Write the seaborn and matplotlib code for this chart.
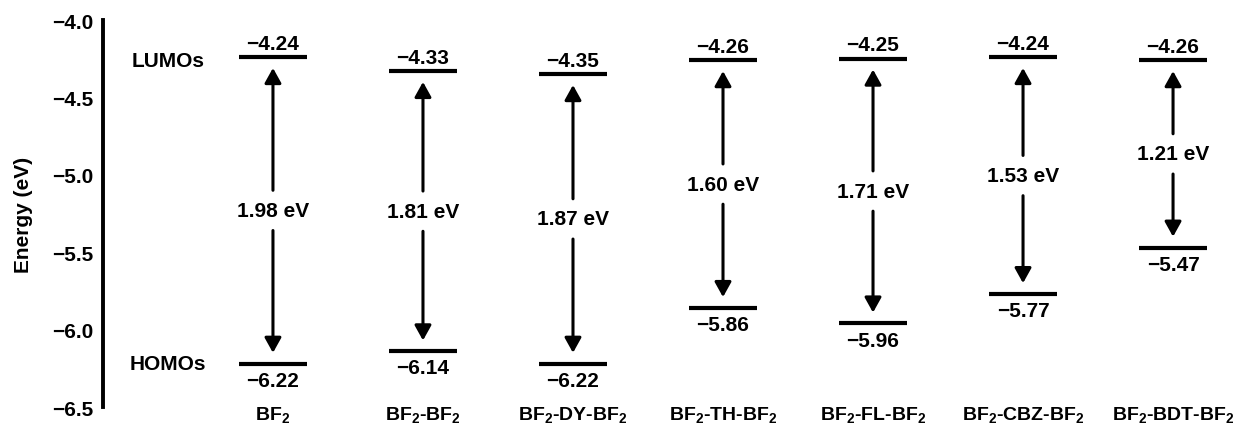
import matplotlib
matplotlib.use("Agg")
import matplotlib.pyplot as plt
import seaborn as sns
import numpy as np

categories = ["BF$_2$", "BF$_2$-BF$_2$", "BF$_2$-DY-BF$_2$", "BF$_2$-TH-BF$_2$",
              "BF$_2$-FL-BF$_2$", "BF$_2$-CBZ-BF$_2$", "BF$_2$-BDT-BF$_2$"]
lumo = [-4.24, -4.33, -4.35, -4.26, -4.25, -4.24, -4.26]
homo = [-6.22, -6.14, -6.22, -5.86, -5.96, -5.77, -5.47]
gaps = [1.98, 1.81, 1.87, 1.60, 1.71, 1.53, 1.21]
yticks = [-4.0, -4.5, -5.0, -5.5, -6.0, -6.5]

sns.set_theme(style="white")
plt.rcParams["font.family"] = ["Liberation Sans", "DejaVu Sans"]
plt.rcParams["font.weight"] = "bold"
plt.rcParams["mathtext.fontset"] = "custom"
plt.rcParams["mathtext.rm"] = "Liberation Sans:bold"
plt.rcParams["mathtext.bf"] = "Liberation Sans:bold"
plt.rcParams["mathtext.default"] = "rm"
for k in ["text.color", "axes.labelcolor", "xtick.color", "ytick.color", "axes.edgecolor"]:
    plt.rcParams[k] = "black"

fig = plt.figure(figsize=(12.41, 4.27), dpi=100)
ax = fig.add_axes([103 / 1241, 19 / 427, (1241 - 103) / 1241, (408 - 21) / 427])

x = np.arange(len(categories))
half = 0.227
FS = 15

ax.hlines(lumo, x - half, x + half, color="black", lw=3.0)
ax.hlines(homo, x - half, x + half, color="black", lw=3.0)

tip_off = 0.07
gap_half = 0.13
for xi, lu, ho, g in zip(x, lumo, homo, gaps):
    mid = (lu + ho) / 2
    ap = dict(arrowstyle="-|>,head_length=0.45,head_width=0.25", color="black",
              lw=2.2, shrinkA=0, shrinkB=0, mutation_scale=20)
    ax.annotate("", xy=(xi, lu - tip_off), xytext=(xi, mid + gap_half), arrowprops=ap)
    ax.annotate("", xy=(xi, ho + tip_off), xytext=(xi, mid - gap_half), arrowprops=ap)
    ax.text(xi, mid, f"{g:.2f} eV", ha="center", va="center", fontsize=FS, fontweight="bold")
    ax.annotate(f"{lu:.2f}".replace("-", "\u2212"), xy=(xi, lu), xytext=(0, 10),
                textcoords="offset points", ha="center", va="center", fontsize=FS,
                fontweight="bold")
    ax.annotate(f"{ho:.2f}".replace("-", "\u2212"), xy=(xi, ho), xytext=(0, -12),
                textcoords="offset points", ha="center", va="center", fontsize=FS,
                fontweight="bold")

ax.text(-0.70, lumo[0] - 0.02, "LUMOs", ha="center", va="center", fontsize=FS, fontweight="bold")
ax.text(-0.70, homo[0], "HOMOs", ha="center", va="center", fontsize=FS, fontweight="bold")

ax.set_xlim(-1.133, 6.453)
ax.set_ylim(-6.5, -4.0)
ax.set_yticks(yticks)
ax.set_yticklabels([f"{t:.1f}".replace("-", "\u2212") for t in yticks], fontsize=FS,
                   fontweight="bold")
ax.set_xticks(x)
ax.set_xticklabels(categories, fontsize=14, fontweight="bold")
ax.tick_params(axis="y", length=0, pad=7)
ax.tick_params(axis="x", length=0, pad=-2)
ax.set_ylabel("Energy (eV)", fontsize=FS, fontweight="bold", labelpad=14)

for s in ["top", "right", "bottom"]:
    ax.spines[s].set_visible(False)
ax.spines["left"].set_color("black")
ax.spines["left"].set_linewidth(2.8)
ax.patch.set_alpha(0)

fig.savefig("out.png", dpi=100)
